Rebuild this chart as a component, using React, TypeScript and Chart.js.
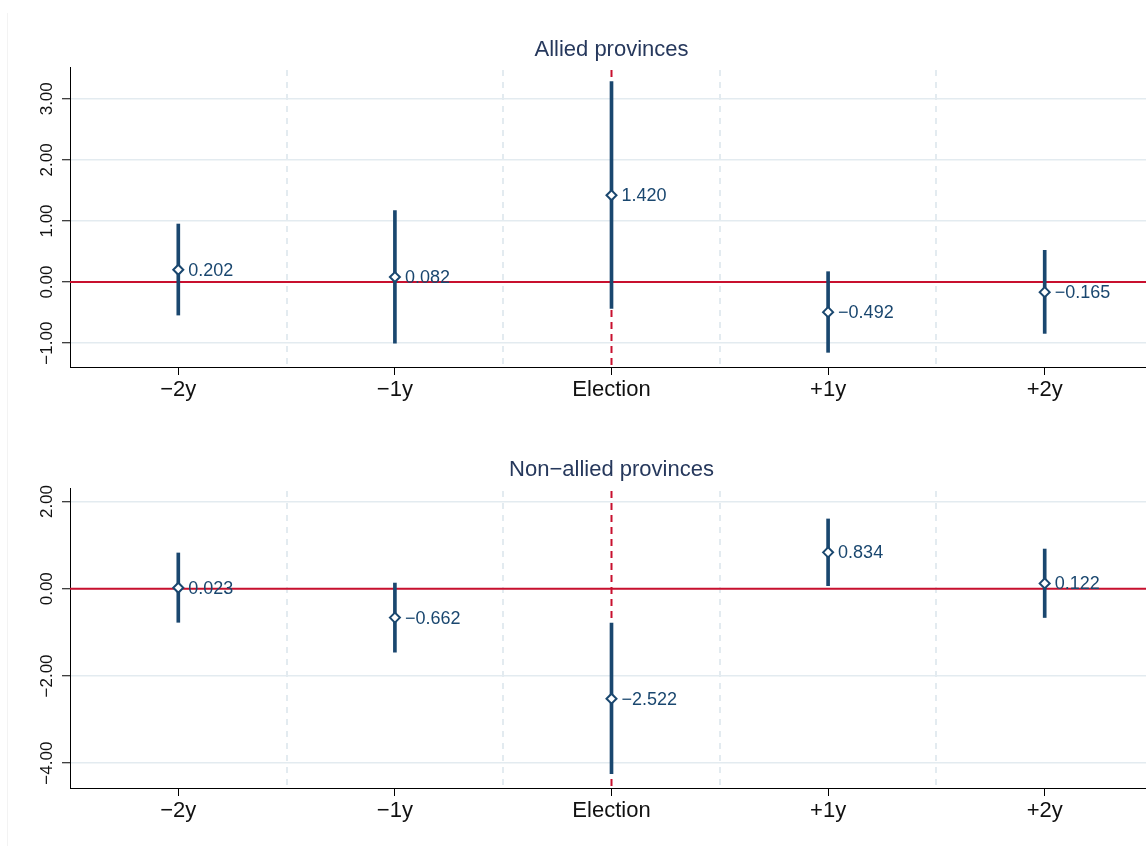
import React, { useEffect, useRef } from "react";
import { Chart, registerables } from "chart.js";

Chart.register(...registerables);

// ---- data ----
const categories = ["\u22122y", "\u22121y", "Election", "+1y", "+2y"];
const eventCategory = "Election";

const alliedTitle = "Allied provinces";
const alliedEst = [0.202, 0.082, 1.42, -0.492, -0.165];
const alliedLow = [-0.54, -1.0, -0.43, -1.15, -0.84];
const alliedHigh = [0.95, 1.17, 3.28, 0.17, 0.52];
const alliedYTicks = [-1, 0, 1, 2, 3];
const alliedYRange = [-1.39, 3.52];

const nonAlliedTitle = "Non\u2212allied provinces";
const nonAlliedEst = [0.023, -0.662, -2.522, 0.834, 0.122];
const nonAlliedLow = [-0.77, -1.455, -4.24, 0.07, -0.66];
const nonAlliedHigh = [0.82, 0.13, -0.79, 1.6, 0.91];
const nonAlliedYTicks = [-4, -2, 0, 2];
const nonAlliedYRange = [-4.57, 2.31];

// ---- styles ----
const NAVY = "#1a476f";
const RED = "#c8102e";
const GRID = "#e3ebf0";
const TITLE = "#26385c";
const FONT = "'Liberation Sans', Arial, Helvetica, sans-serif";

const fmt = (v: number, d: number) => (v < 0 ? "\u2212" : "") + Math.abs(v).toFixed(d);

const decorPlugin = {
  id: "decor",
  beforeDatasetsDraw(chart: any, _args: any, opts: any) {
    const { ctx, chartArea: a, scales } = chart;
    const x = scales.x;
    const y = scales.y;
    ctx.save();
    // dashed separators between categories
    ctx.strokeStyle = GRID;
    ctx.lineWidth = 2;
    ctx.setLineDash([6, 6]);
    for (let i = 0; i < categories.length - 1; i++) {
      const px = Math.round((x.getPixelForValue(i) + x.getPixelForValue(i + 1)) / 2);
      ctx.beginPath();
      ctx.moveTo(px, a.top + 3);
      ctx.lineTo(px, a.bottom);
      ctx.stroke();
    }
    // zero reference line
    ctx.setLineDash([]);
    ctx.strokeStyle = RED;
    ctx.lineWidth = 2;
    const y0 = y.getPixelForValue(0);
    ctx.beginPath();
    ctx.moveTo(a.left, y0);
    ctx.lineTo(a.right, y0);
    ctx.stroke();
    // event reference line
    const ex = x.getPixelForValue(categories.indexOf(eventCategory));
    ctx.setLineDash([7, 5]);
    ctx.beginPath();
    ctx.moveTo(ex, a.top + 3);
    ctx.lineTo(ex, a.bottom);
    ctx.stroke();
    ctx.restore();
  },
  afterDatasetsDraw(chart: any, _args: any, opts: any) {
    const { ctx, chartArea: a } = chart;
    ctx.save();
    // value labels
    const meta = chart.getDatasetMeta(1);
    ctx.font = `18px ${FONT}`;
    ctx.fillStyle = NAVY;
    ctx.textAlign = "left";
    ctx.textBaseline = "middle";
    meta.data.forEach((pt: any, i: number) => {
      ctx.fillText(fmt(opts.values[i], 3), pt.x + 10, pt.y + 1);
    });
    // title
    ctx.font = `22px ${FONT}`;
    ctx.fillStyle = TITLE;
    ctx.textAlign = "center";
    ctx.fillText(opts.title, (a.left + a.right) / 2, 50);
    ctx.restore();
  },
};

function makeConfig(
  title: string,
  est: number[],
  low: number[],
  high: number[],
  yTicks: number[],
  yRange: number[],
  topPad: number,
  xAxisHeight: number
): any {
  return {
    type: "bar",
    data: {
      labels: categories,
      datasets: [
        {
          type: "bar",
          data: low.map((l, i) => [l, high[i]]),
          backgroundColor: NAVY,
          borderWidth: 0,
          barThickness: 3,
          order: 2,
        },
        {
          type: "line",
          data: est,
          showLine: false,
          pointStyle: "rectRot",
          pointRadius: 5,
          pointBorderWidth: 2,
          pointBackgroundColor: "#ffffff",
          pointBorderColor: NAVY,
          order: 1,
        },
      ],
    },
    options: {
      responsive: false,
      animation: false,
      events: [],
      layout: { padding: { top: topPad, left: 0, right: 6, bottom: 0 } },
      plugins: {
        legend: { display: false },
        tooltip: { enabled: false },
        title: { display: false },
        decor: { title, values: est },
      },
      scales: {
        x: {
          type: "category",
          offset: true,
          grid: {
            offset: false,
            drawOnChartArea: false,
            drawTicks: true,
            tickLength: 8,
            tickColor: "#000",
            tickWidth: 1,
          },
          border: { display: true, color: "#000", width: 1 },
          ticks: {
            color: "#111",
            font: { family: FONT, size: 22 },
            padding: 2,
            maxRotation: 0,
            autoSkip: false,
          },
          afterFit: (s: any) => {
            s.height = xAxisHeight;
          },
        },
        y: {
          type: "linear",
          min: yRange[0],
          max: yRange[1],
          grid: {
            color: GRID,
            lineWidth: 1.5,
            tickLength: 8,
            tickColor: "#000",
            tickWidth: 1,
          },
          border: { display: true, color: "#000", width: 1 },
          ticks: {
            color: "#111",
            font: { family: FONT, size: 17 },
            minRotation: 90,
            maxRotation: 90,
            crossAlign: "center",
            padding: -7,
            callback: (v: any) => fmt(Number(v), 2),
          },
          afterBuildTicks: (s: any) => {
            s.ticks = yTicks.map((v) => ({ value: v }));
          },
          afterFit: (s: any) => {
            s.width = 70;
          },
        },
      },
    },
    plugins: [decorPlugin],
  };
}

function Panel(props: { config: any; width: number; height: number; top: number }) {
  const ref = useRef<HTMLCanvasElement | null>(null);
  useEffect(() => {
    if (!ref.current) return;
    const chart = new Chart(ref.current, props.config);
    return () => chart.destroy();
  }, []);
  return (
    <div style={{ position: "absolute", left: 0, top: props.top, width: props.width, height: props.height }}>
      <canvas ref={ref} width={props.width} height={props.height} style={{ display: "block" }} />
    </div>
  );
}

export default function App() {
  const topCfg = makeConfig(alliedTitle, alliedEst, alliedLow, alliedHigh, alliedYTicks, alliedYRange, 67, 53);
  const botCfg = makeConfig(
    nonAlliedTitle,
    nonAlliedEst,
    nonAlliedLow,
    nonAlliedHigh,
    nonAlliedYTicks,
    nonAlliedYRange,
    68,
    58
  );
  return (
    <div
      style={{
        position: "fixed",
        left: 0,
        top: 0,
        width: 1146,
        height: 846,
        overflow: "hidden",
        background: "#fff",
      }}
    >
      <div
        style={{
          position: "absolute",
          left: 7,
          top: 13,
          width: 0,
          height: 833,
          borderLeft: "1px solid #f3f3f3",
        }}
      />
      <Panel config={topCfg} width={1160} height={420} top={0} />
      <Panel config={botCfg} width={1160} height={426} top={420} />
    </div>
  );
}
